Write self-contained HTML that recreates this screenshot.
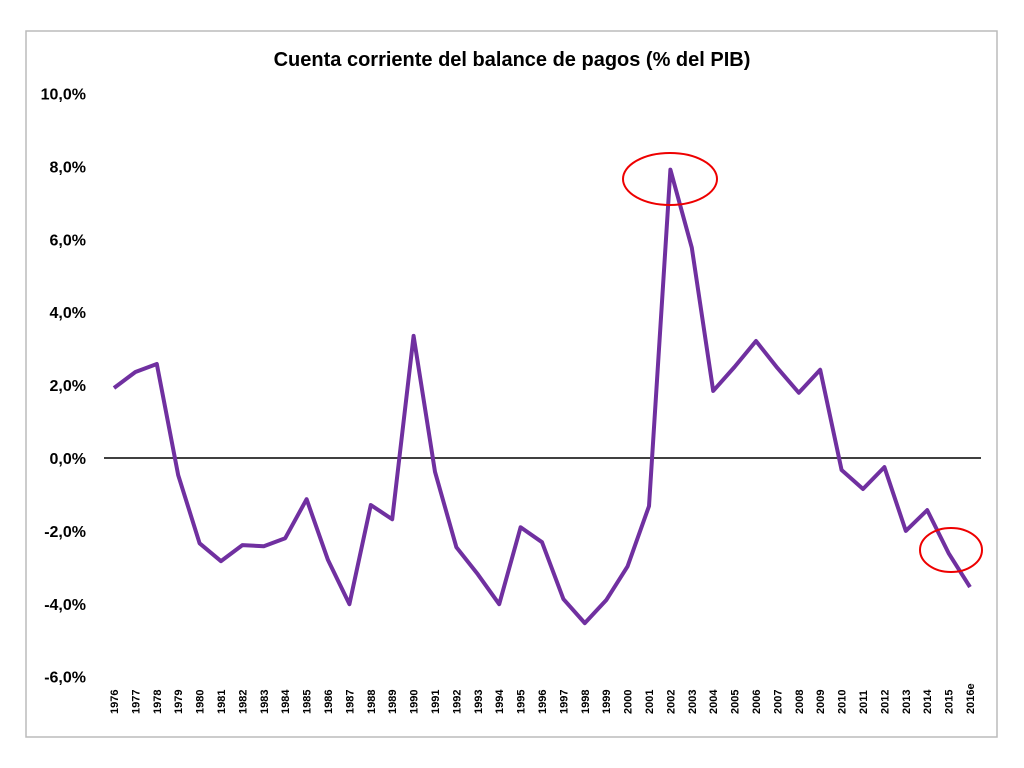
<!DOCTYPE html>
<html><head><meta charset="utf-8"><style>
body{margin:0;background:#fff;}
svg{display:block;font-family:"Liberation Sans",sans-serif;}
</style></head><body>
<svg width="1024" height="768">
<rect x="26" y="31" width="971" height="706" fill="#fff" stroke="#bbb" stroke-width="1.5"/>
<text x="512" y="66" text-anchor="middle" font-size="20" font-weight="bold">Cuenta corriente del balance de pagos (% del PIB)</text>
<g id="yaxis"></g>
<g id="xaxis"></g>
<line id="zero" x1="104" x2="981" stroke="#000" stroke-width="1.5"/>
<path id="line" fill="none" stroke="#7030a0" stroke-width="4" stroke-linejoin="round"/>
<ellipse cx="670" cy="179" rx="47" ry="26" fill="none" stroke="#e00" stroke-width="2"/>
<ellipse cx="951" cy="550" rx="31" ry="22" fill="none" stroke="#e00" stroke-width="2"/>
</svg>
<script>
const years=["1976","1977","1978","1979","1980","1981","1982","1983","1984","1985","1986","1987","1988","1989","1990","1991","1992","1993","1994","1995","1996","1997","1998","1999","2000","2001","2002","2003","2004","2005","2006","2007","2008","2009","2010","2011","2012","2013","2014","2015","2016e"];
const values=[1.92,2.36,2.58,-0.47,-2.34,-2.83,-2.39,-2.42,-2.2,-1.13,-2.8,-4.01,-1.29,-1.68,3.35,-0.38,-2.45,-3.19,-4.01,-1.9,-2.31,-3.87,-4.53,-3.9,-2.97,-1.32,7.91,5.77,1.84,2.5,3.21,2.47,1.79,2.42,-0.33,-0.85,-0.25,-2.0,-1.43,-2.61,-3.54];
const yTicks=[-6,-4,-2,0,2,4,6,8,10];
const yTickLabels=["-6,0%","-4,0%","-2,0%","0,0%","2,0%","4,0%","6,0%","8,0%","10,0%"];
const NS="http://www.w3.org/2000/svg";
const y=v=>458-v*36.45;
const x=i=>114+i*(856/(years.length-1));
const ya=document.getElementById('yaxis'),xa=document.getElementById('xaxis');
yTicks.forEach((t,i)=>{const e=document.createElementNS(NS,'text');
e.setAttribute('x',86);e.setAttribute('y',y(t)+6);e.setAttribute('text-anchor','end');
e.setAttribute('font-size','16');e.setAttribute('font-weight','bold');e.textContent=yTickLabels[i];


ya.appendChild(e);});
years.forEach((yr,i)=>{const e=document.createElementNS(NS,'text');
e.setAttribute('transform',`translate(${x(i)+4},714) rotate(-90)`);
e.setAttribute('font-size','11');e.setAttribute('font-weight','bold');e.textContent=yr;


xa.appendChild(e);});
const z=document.getElementById('zero');z.setAttribute('y1',y(0));z.setAttribute('y2',y(0));
document.getElementById('line').setAttribute('d',values.map((v,i)=>(i?'L':'M')+x(i)+','+y(v)).join(''));
</script>
</body></html>
